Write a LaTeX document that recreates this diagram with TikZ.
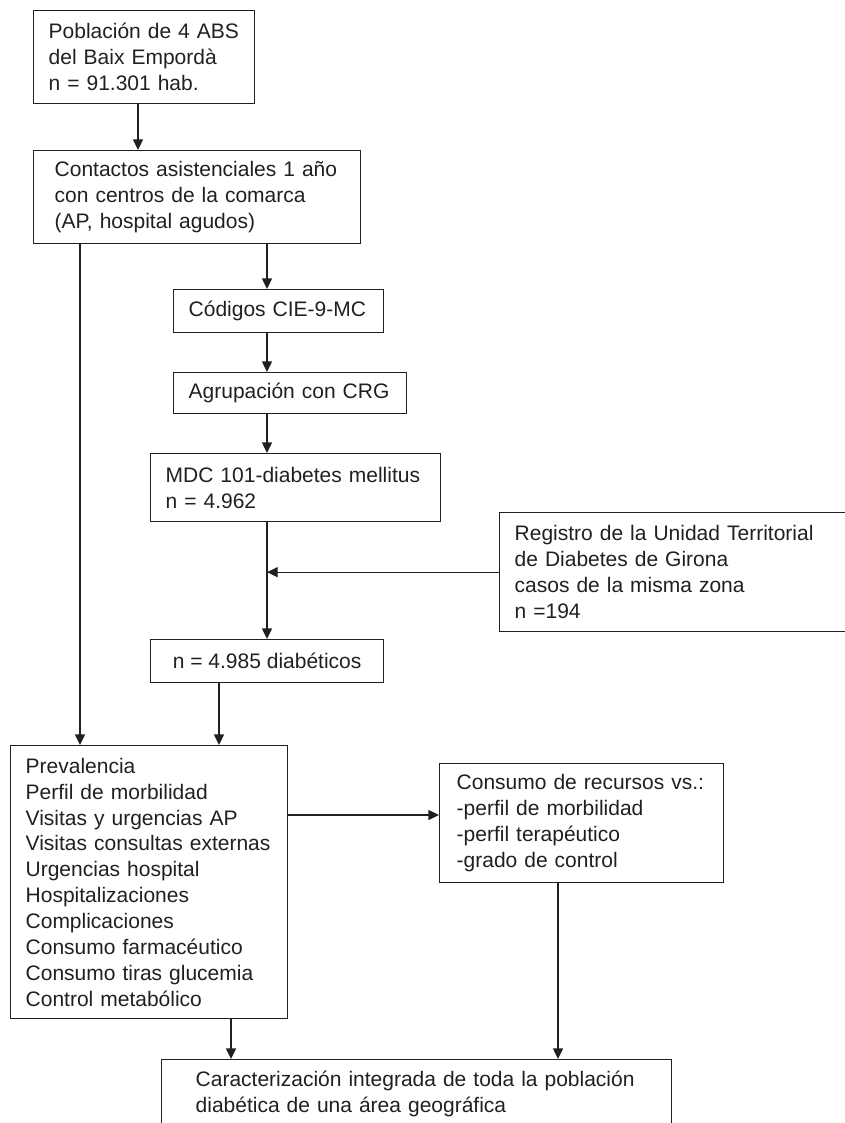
\documentclass[tikz,border=0pt]{standalone}
\usepackage{fontspec}
\setmainfont{Liberation Sans}
\usetikzlibrary{arrows.meta}

\definecolor{ink}{HTML}{231F20}

\tikzset{
  box/.style={draw=ink, line width=1pt, anchor=north west, align=left,
    text=ink, font=\fontsize{15.75}{19.4}\selectfont, inner ysep=0pt},
  arr/.style={draw=ink, line width=1pt, -{Triangle[length=8pt,width=7.5pt]}}
}

\begin{document}
\begin{tikzpicture}[x=0.75pt,y=-0.75pt]
    \useasboundingbox (0,0) rectangle (844,1123);

    \node[box, inner xsep=11.25pt, text width=143.25pt, minimum height=69.75pt] (pob) at (33,10)
        {Población de 4 ABS\\del Baix Empordà\\n = 91.301 hab.};
    \node[box, inner xsep=15.75pt, text width=213.75pt, minimum height=69.75pt] (cont) at (33,150)
        {Contactos asistenciales 1 año\\con centros de la comarca\\(AP, hospital agudos)};
    \node[box, inner xsep=11.25pt, text width=135pt, minimum height=32.25pt] (cod) at (173,289)
        {Códigos CIE-9-MC};
    \node[box, inner xsep=11.25pt, text width=152.25pt, minimum height=30.75pt] (agr) at (173,372)
        {Agrupación con CRG};
    \node[box, inner xsep=11.25pt, text width=195pt, minimum height=51pt] (mdc) at (150,453)
        {MDC 101-diabetes mellitus\\n = 4.962};
    \node[box, inner xsep=11.25pt, text width=247.5pt, minimum height=89.25pt] (reg) at (499,512)
        {Registro de la Unidad Territorial\\de Diabetes de Girona\\casos de la misma zona\\n =194};
    \node[box, align=center, inner xsep=0pt, minimum width=174.75pt, minimum height=32.25pt] (ndia) at (150,639)
        {n = 4.985 diabéticos};
    \node[box, inner xsep=11.25pt, text width=185.25pt, minimum height=204.75pt] (prev) at (10,745)
        {Prevalencia\\Perfil de morbilidad\\Visitas y urgencias AP\\Visitas consultas externas\\Urgencias hospital\\Hospitalizaciones\\Complicaciones\\Consumo farmacéutico\\Consumo tiras glucemia\\Control metabólico};
    \node[box, inner xsep=12.75pt, text width=187.5pt, minimum height=89.25pt] (cons) at (439,763)
        {Consumo de recursos vs.:\\-perfil de morbilidad\\-perfil terapéutico\\-grado de control};
    \node[box, inner xsep=25.5pt, text width=331.5pt, minimum height=51.75pt] (car) at (161,1059)
        {Caracterización integrada de toda la población\\diabética de una área geográfica};

    % columns and rows used by the connectors
    \coordinate (first) at (138,0);
    \coordinate (lft) at (80,0);
    \coordinate (spine) at (267,0);
    \coordinate (mid) at (219,0);
    \coordinate (low) at (231,0);
    \coordinate (rgt) at (558,0);
    \coordinate (row) at (0,815);

    \draw[arr] (first |- pob.south) -- (first |- cont.north);
    \draw[arr] (lft |- cont.south) -- (lft |- prev.north);
    \draw[arr] (spine |- cont.south) -- (spine |- cod.north);
    \draw[arr] (spine |- cod.south) -- (spine |- agr.north);
    \draw[arr] (spine |- agr.south) -- (spine |- mdc.north);
    \draw[arr] (spine |- mdc.south) -- (spine |- ndia.north);
    \draw[arr] (reg.west) -- (spine |- reg.west);
    \draw[arr] (mid |- ndia.south) -- (mid |- prev.north);
    \draw[arr] (prev.east |- row) -- (cons.west |- row);
    \draw[arr] (low |- prev.south) -- (low |- car.north);
    \draw[arr] (rgt |- cons.south) -- (rgt |- car.north);

\end{tikzpicture}
\end{document}
